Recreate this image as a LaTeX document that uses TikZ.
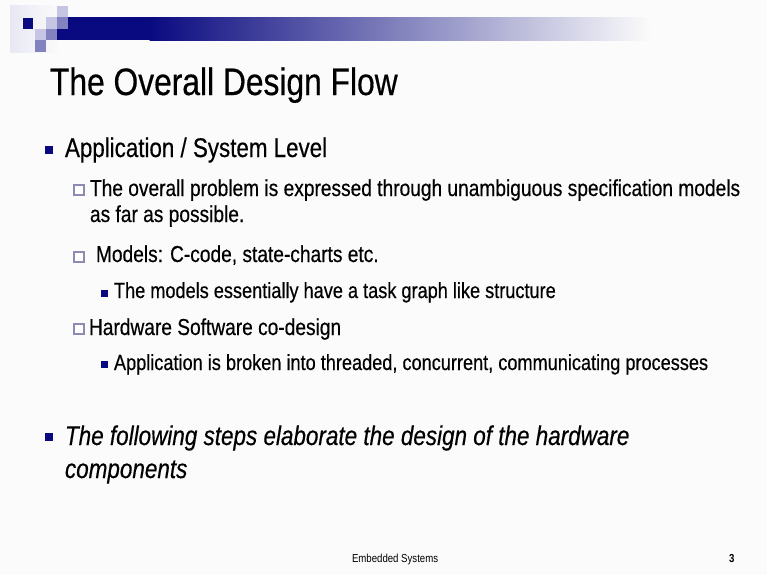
\documentclass[tikz,border=0pt]{standalone}
\usepackage{fontspec}
\setmainfont{Liberation Sans}[FakeStretch=0.83, FakeBold=0.4]
\newfontfamily\footfont{Liberation Sans}[FakeStretch=0.83]
\definecolor{navy}{RGB}{10,10,128}
\definecolor{midblue}{RGB}{130,130,192}
\definecolor{lightblue}{RGB}{198,198,228}
\definecolor{paleblue}{RGB}{232,232,244}
\definecolor{boxline}{RGB}{140,140,178}
\definecolor{slidebg}{RGB}{251,251,251}
\tikzset{
  txt/.style={anchor=base west, inner sep=0pt, outer sep=0pt, text=black},
  titletxt/.style={txt, font=\fontsize{28.7}{32}\selectfont},
  lvlone/.style={txt, font=\fontsize{20.2}{24}\selectfont},
  lvltwo/.style={txt, font=\fontsize{17.3}{20}\selectfont},
  lvlthree/.style={txt, font=\fontsize{16.4}{19}\selectfont},
  foot/.style={txt, font=\footfont\fontsize{8.7}{10}\selectfont},
  fullbullet/.style={fill=navy},
  hollowbullet/.style={draw=boxline, line width=0.8pt, fill=white},
}
\begin{document}
\begin{tikzpicture}[x=0.75pt, y=-0.75pt]
  % slide background
  \fill[slidebg] (0,0) rectangle (767,575);
  \useasboundingbox (0,0) rectangle (767,575);

  % header ornament: pale strip, gradient bar and squares
  \shade[left color=paleblue, right color=slidebg] (10,5) rectangle (60,52);
  \fill[navy] (57,17) rectangle (150,40);
  \shade[left color=navy, right color=slidebg] (149.5,17) rectangle (650,40);
  \fill[lightblue] (57,6) rectangle (68,17);
  \fill[midblue] (57,17) rectangle (68,29);
  \fill[lightblue] (46,17) rectangle (57,29);
  \fill[midblue] (46,29) rectangle (57,40);
  \fill[lightblue] (35,29) rectangle (46,40);
  \fill[midblue] (35,40) rectangle (46,52);
  \fill[navy] (23,18) rectangle (33,29);

  % title
  \node[titletxt] (title) at (50,95) {The Overall Design Flow};

  % first level: application / system level
  \fill[fullbullet] (45,146) rectangle (53,154);
  \node[lvlone] (app) at (65,157) {Application / System Level};

  \filldraw[hollowbullet] (74,185) rectangle (84,195);
  \node[lvltwo] (spec1) at (90,196) {The overall problem is expressed through unambiguous specification models};
  \node[lvltwo] (spec2) at (90,222) {as far as possible.};

  \filldraw[hollowbullet] (74,252) rectangle (84,262);
  \node[lvltwo] (models) at (96,262) {Models: C-code, state-charts etc.};

  \fill[fullbullet] (101,290) rectangle (108,297);
  \node[lvlthree] (taskgraph) at (114,298) {The models essentially have a task graph like structure};

  \filldraw[hollowbullet] (74,324) rectangle (84,334);
  \node[lvltwo] (codesign) at (89,335) {Hardware Software co-design};

  \fill[fullbullet] (101,361) rectangle (108,368);
  \node[lvlthree] (procs) at (114,370) {Application is broken into threaded, concurrent, communicating processes};

  % first level: hardware steps
  \fill[fullbullet] (45,433) rectangle (53,441);
  \node[lvlone, font=\fontsize{20.3}{24}\selectfont\itshape] (steps1) at (65,445) {The following steps elaborate the design of the hardware};
  \node[lvlone, font=\fontsize{20.3}{24}\selectfont\itshape] (steps2) at (65,478) {components};

  % footer
  \node[foot] (footer) at (352,562) {Embedded Systems};
  \node[foot, font=\footfont\fontsize{8.7}{10}\selectfont\bfseries] (pagenum) at (729,562) {3};
\end{tikzpicture}
\end{document}
